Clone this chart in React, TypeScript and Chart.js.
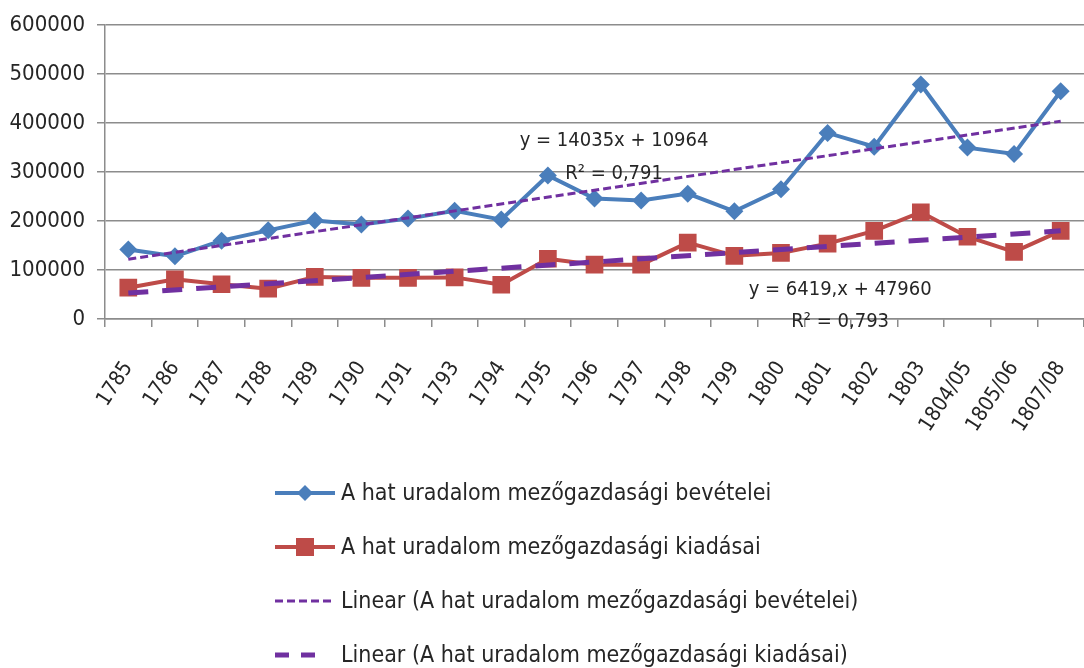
import React, { useEffect, useRef } from 'react';
import { Chart, registerables } from 'chart.js';

Chart.register(...registerables);

const categories = ['1785', '1786', '1787', '1788', '1789', '1790', '1791', '1793', '1794', '1795', '1796', '1797', '1798', '1799', '1800', '1801', '1802', '1803', '1804/05', '1805/06', '1807/08'];
const revenue = [142000, 128000, 160000, 181000, 201000, 193000, 205000, 221000, 203000, 293000, 246000, 242000, 256000, 220000, 265000, 380000, 352000, 479000, 350000, 337000, 465000];
const expenses = [64000, 81000, 71000, 62000, 86000, 84000, 84000, 85000, 70000, 123000, 111000, 111000, 156000, 129000, 135000, 154000, 180000, 218000, 168000, 137000, 180000];
const revenueTrendEnds = [122000, 404000];
const expenseTrendEnds = [53000, 180000];
const yMin = 0;
const yMax = 600000;
const yStep = 100000;
const seriesNames = [
  'A hat uradalom mezőgazdasági bevételei',
  'A hat uradalom mezőgazdasági kiadásai',
  'Linear (A hat uradalom mezőgazdasági bevételei)',
  'Linear (A hat uradalom mezőgazdasági kiadásai)',
];
const equationTexts = ['y = 14035x + 10964', 'R² = 0,791', 'y = 6419,x + 47960', 'R² = 0,793'];
const equationAnchors = [
  { at: 10.42, value: 363000 },
  { at: 10.42, value: 297000 },
  { at: 15.27, value: 59000 },
  { at: 15.27, value: -6000 },
];

const BLUE = '#4A7EBB';
const RED = '#BE4B48';
const PURPLE = '#7030A0';
const GRID = '#8C8C8C';
const TEXT = '#262626';
const FONT = "'DejaVu Sans Condensed', 'Liberation Sans Narrow', 'Liberation Sans', sans-serif";

const trend = (ends: number[]) =>
  categories.map((_, i) => (i === 0 ? ends[0] : i === categories.length - 1 ? ends[1] : null));

const equationPlugin = {
  id: 'equationLabels',
  afterDatasetsDraw(chart: any) {
    const { ctx, scales } = chart;
    const x = scales.x;
    const y = scales.y;
    ctx.save();
    ctx.font = `20px ${FONT}`;
    ctx.fillStyle = TEXT;
    ctx.textAlign = 'center';
    ctx.textBaseline = 'middle';
    equationTexts.forEach((t, i) => {
      ctx.fillText(t, x.getPixelForValue(equationAnchors[i].at), y.getPixelForValue(equationAnchors[i].value));
    });
    ctx.restore();
  },
};

const legendPlugin = {
  id: 'verticalLegend',
  afterDraw(chart: any) {
    const ctx = chart.ctx;
    const x0 = 275;
    const x1 = 335;
    const textX = 341;
    const top = 493;
    const gap = 54;
    ctx.save();
    chart.data.datasets.forEach((ds: any, i: number) => {
      const yy = top + i * gap;
      ctx.save();
      ctx.strokeStyle = ds.borderColor;
      ctx.lineWidth = ds.borderWidth;
      ctx.setLineDash(i === 3 ? [14, 12] : ds.borderDash || []);
      ctx.beginPath();
      ctx.moveTo(x0, yy);
      ctx.lineTo(i === 3 ? 318 : x1, yy);
      ctx.stroke();
      ctx.restore();
      const cx = (x0 + x1) / 2;
      ctx.fillStyle = ds.borderColor;
      if (ds.pointStyle === 'rectRot') {
        const r = 8;
        ctx.beginPath();
        ctx.moveTo(cx - r, yy);
        ctx.lineTo(cx, yy - r);
        ctx.lineTo(cx + r, yy);
        ctx.lineTo(cx, yy + r);
        ctx.closePath();
        ctx.fill();
      } else if (ds.pointStyle === 'rect') {
        const h = 9;
        ctx.fillRect(cx - h, yy - h, 2 * h, 2 * h);
      }
      ctx.fillStyle = TEXT;
      ctx.font = `23px ${FONT}`;
      ctx.textAlign = 'left';
      ctx.textBaseline = 'middle';
      ctx.fillText(ds.label, textX, yy + 1);
    });
    ctx.restore();
  },
};

export default function App() {
  const ref = useRef<HTMLCanvasElement>(null);
  useEffect(() => {
    const chart = new Chart(ref.current as HTMLCanvasElement, {
      type: 'line',
      data: {
        labels: categories,
        datasets: [
          { label: seriesNames[0], data: revenue, borderColor: BLUE, backgroundColor: BLUE, borderWidth: 4, pointStyle: 'rectRot', pointRadius: 9, pointBorderWidth: 0, order: 1 } as any,
          { label: seriesNames[1], data: expenses, borderColor: RED, backgroundColor: RED, borderWidth: 4, pointStyle: 'rect', pointRadius: 12.5, pointBorderWidth: 0, order: 1 } as any,
          { label: seriesNames[2], data: trend(revenueTrendEnds), borderColor: PURPLE, borderWidth: 3, borderDash: [8, 4], pointRadius: 0, spanGaps: true, order: 0 } as any,
          { label: seriesNames[3], data: trend(expenseTrendEnds), borderColor: PURPLE, borderWidth: 5, borderDash: [20, 14], pointRadius: 0, spanGaps: true, order: 0 } as any,
        ],
      },
      options: {
        animation: false,
        responsive: false,
        layout: { autoPadding: false, padding: { top: 22, right: 0, left: 0, bottom: 0 } },
        plugins: { legend: { display: false }, tooltip: { enabled: false } },
        scales: {
          x: {
            offset: true,
            grid: { drawOnChartArea: false, drawTicks: true, tickLength: 8, color: GRID, lineWidth: 1.5, offset: true },
            border: { color: GRID, width: 1.5 },
            ticks: { font: { family: FONT, size: 21 }, color: TEXT, maxRotation: 57, minRotation: 57, autoSkip: false, padding: 30, labelOffset: 0 },
            afterFit: (s: any) => { s.height = 349; s.paddingRight = 0; },
          },
          y: {
            min: yMin,
            max: yMax,
            ticks: { stepSize: yStep, font: { family: FONT, size: 22 }, color: TEXT, padding: 12, callback: (v: any) => String(v) },
            grid: { color: GRID, lineWidth: 1.5, tickLength: 8 },
            border: { color: GRID, width: 1.5 },
            afterFit: (s: any) => { s.width = 105; },
          },
        },
      } as any,
      plugins: [equationPlugin, legendPlugin],
    });
    return () => chart.destroy();
  }, []);
  return (
    <div style={{ position: 'fixed', left: 0, top: 0, width: 1084, height: 668, background: '#fff' }}>
      <canvas ref={ref} width={1084} height={668} style={{ display: 'block' }} />
    </div>
  );
}
